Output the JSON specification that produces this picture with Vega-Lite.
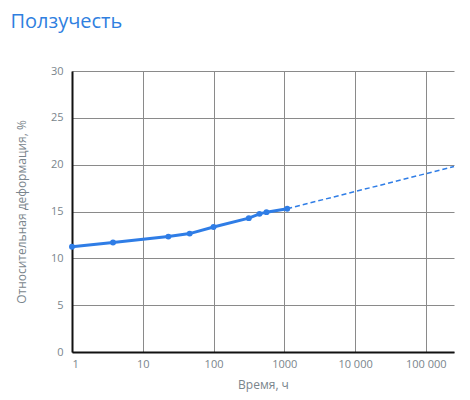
{
  "$schema": "https://vega.github.io/schema/vega-lite/v6.json",
  "width": 382,
  "height": 281,
  "autosize": "none",
  "padding": {"left": 72, "top": 71, "right": 16, "bottom": 48},
  "background": "white",
  "config": {
    "font": "Open Sans",
    "view": {"stroke": null}
  },
  "title": {
    "text": "Ползучесть",
    "anchor": "start",
    "frame": "bounds",
    "fontSize": 20,
    "fontWeight": "normal",
    "color": "#2f7fe0",
    "offset": 33,
    "dx": -5
  },
  "datasets": {
    "measured": [
      {"t": 1, "v": 11.23},
      {"t": 3.8, "v": 11.69},
      {"t": 23, "v": 12.32},
      {"t": 46, "v": 12.64},
      {"t": 100, "v": 13.34},
      {"t": 315, "v": 14.29},
      {"t": 446, "v": 14.75},
      {"t": 560, "v": 14.93},
      {"t": 1100, "v": 15.3}
    ],
    "forecast": [
      {"t": 1100, "v": 15.3},
      {"t": 250000, "v": 19.8}
    ]
  },
  "encoding": {
    "x": {
      "field": "t",
      "type": "quantitative",
      "scale": {"type": "log", "domain": [1, 250000], "nice": false},
      "axis": {
        "title": "Время, ч",
        "values": [1, 10, 100, 1000, 10000, 100000],
        "format": "d",
        "labelExpr": "datum.value == 10000 ? '10 000' : datum.value == 100000 ? '100 000' : datum.label",
        "ticks": false,
        "labelPadding": 6,
        "labelFontSize": 11,
        "labelColor": "#7a858c",
        "titleFontSize": 12,
        "titleFontWeight": "normal",
        "titleColor": "#7a858c",
        "titlePadding": 10,
        "domainColor": "#111111",
        "domainWidth": 2,
        "gridColor": "#8a8a8a",
        "gridWidth": 1,
        "gridOpacity": 1
      }
    },
    "y": {
      "field": "v",
      "type": "quantitative",
      "scale": {"domain": [0, 30], "nice": false},
      "axis": {
        "title": "Относительная деформация, %",
        "values": [0, 5, 10, 15, 20, 25, 30],
        "ticks": false,
        "labelPadding": 9,
        "labelFontSize": 11,
        "labelColor": "#7a858c",
        "titleFontSize": 12,
        "titleFontWeight": "normal",
        "titleColor": "#7a858c",
        "titlePadding": 22,
        "domainColor": "#111111",
        "domainWidth": 2,
        "gridColor": "#8a8a8a",
        "gridWidth": 1,
        "gridOpacity": 1
      }
    }
  },
  "layer": [
    {
      "data": {"name": "forecast"},
      "mark": {"type": "line", "color": "#2f7de6", "strokeWidth": 1.5, "strokeDash": [5, 3]}
    },
    {
      "data": {"name": "measured"},
      "mark": {"type": "line", "color": "#2f7de6", "strokeWidth": 3, "point": {"filled": true, "size": 35, "color": "#2f7de6"}}
    }
  ]
}
